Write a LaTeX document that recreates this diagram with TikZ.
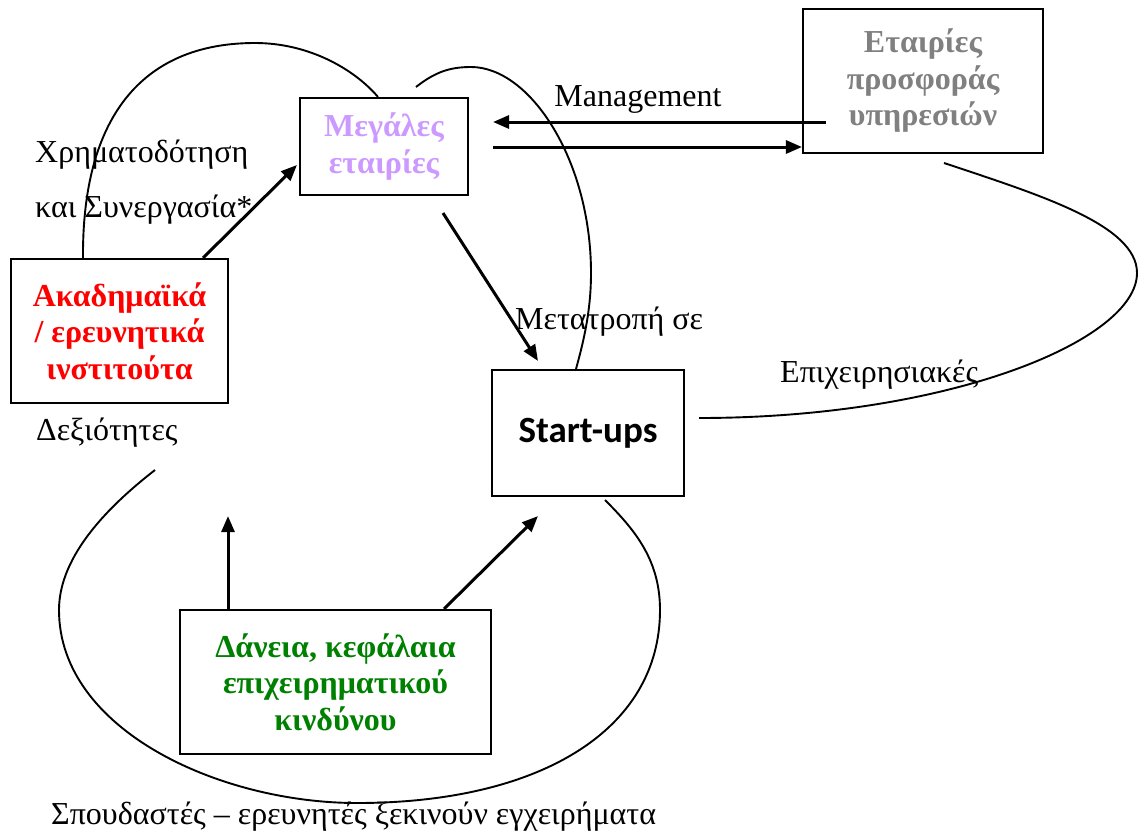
\documentclass[tikz,border=0pt]{standalone}
\usepackage{fontspec}
\setmainfont{Liberation Serif}
\newfontfamily\startfont{Carlito}
\usetikzlibrary{arrows.meta}
\definecolor{lavender}{HTML}{CC99FF}
\definecolor{svcgray}{HTML}{808080}
\definecolor{loangreen}{HTML}{008000}
\begin{document}
\begin{tikzpicture}[x=1pt,y=-1pt,
  box/.style={draw,line width=2.1pt,inner sep=0pt,align=center,
    font=\fontsize{32}{36.5}\selectfont\bfseries},
  lbl/.style={inner sep=0pt,font=\fontsize{32}{36.5}\selectfont},
  arr/.style={line width=3pt,-{Triangle[length=16pt,width=13pt]}},
  loop/.style={line width=1.9pt}]
\useasboundingbox (0,0) rectangle (1138,833);

% boxes
\node[box,minimum width=217pt,minimum height=144pt,text=red] (acad) at (119.5,331)
  {Ακαδημαϊκά\\/ ερευνητικά\\ινστιτούτα};
\node[box,minimum width=168pt,minimum height=97pt,text=lavender] (big) at (384,146.5)
  {Μεγάλες\\εταιρίες};
\node[box,minimum width=240pt,minimum height=144pt,text=svcgray] (serv) at (923,81)
  {Εταιρίες\\προσφοράς\\υπηρεσιών};
\node[box,minimum width=192pt,minimum height=126pt,font=\startfont\fontsize{37}{40}\selectfont\bfseries] (start) at (588,433)
  {Start-ups};
\node[box,minimum width=311pt,minimum height=144pt,text=loangreen] (loans) at (335.5,682)
  {Δάνεια, κεφάλαια\\επιχειρηματικού\\κινδύνου};

% straight arrows
\draw[arr] ([xshift=83.5pt]acad.north) -- ([xshift=-2pt,yshift=-18.5pt]big.west);
\draw[arr] ([xshift=59pt,yshift=-17pt]big.south) -- ([xshift=-50pt,yshift=8pt]start.north);
\draw[arr] ([xshift=24pt,yshift=-41pt]serv.west) -- ([xshift=24pt,yshift=24.5pt]big.east);
\draw[arr] ([xshift=24pt,yshift=-0.5pt]big.east) -- ([yshift=-66pt]serv.west);
\draw[arr] ([xshift=-107.5pt]loans.north) -- ([xshift=108.5pt,yshift=-112pt]acad.south);
\draw[arr] ([xshift=108.5pt]loans.north) -- ([xshift=-50pt,yshift=-19pt]start.south);

% loop curves
\coordinate (c1a) at ([xshift=-36.5pt]acad.north);
\coordinate (c1b) at ([xshift=-6pt]big.north);
\draw[loop] (c1a) .. controls (82,120) and (140,43) .. (255,43)
  .. controls (310,43) and (355,70) .. (c1b);

\coordinate (c2a) at (416,87);
\coordinate (c2b) at ([xshift=-12pt]start.north);
\draw[loop] (c2a) .. controls (435,72) and (450,67) .. (471,67)
  .. controls (530,67) and (591,160) .. (591,273)
  .. controls (591,310) and (584,340) .. (c2b);

\coordinate (c3a) at (944,163);
\coordinate (c3b) at (699,418);
\draw[loop] (c3a) .. controls (1040,195) and (1137,225) .. (1137,273)
  .. controls (1137,340) and (950,418) .. (c3b);

\coordinate (c4a) at (155,470);
\coordinate (c4b) at (605,500);
\draw[loop] (c4a) .. controls (110,505) and (59,555) .. (59,610)
  .. controls (59,730) and (220,803) .. (357,803)
  .. controls (540,803) and (660,730) .. (660,610)
  .. controls (660,560) and (635,530) .. (c4b);

% labels
\node[lbl,anchor=west] (l1) at (35,155) {Χρηματοδότηση};
\node[lbl,anchor=west] (l2) at (35,210) {και Συνεργασία*};
\node[lbl] (l3) at (638,99) {Management};
\node[lbl,anchor=west] (l4) at (515,322) {Μετατροπή σε};
\node[lbl,anchor=west] (l5) at (780,375) {Επιχειρησιακές};
\node[lbl,anchor=west] (l6) at (36,433) {Δεξιότητες};
\node[lbl,anchor=west] (l7) at (51,817) {Σπουδαστές – ερευνητές ξεκινούν εγχειρήματα};
\end{tikzpicture}
\end{document}
